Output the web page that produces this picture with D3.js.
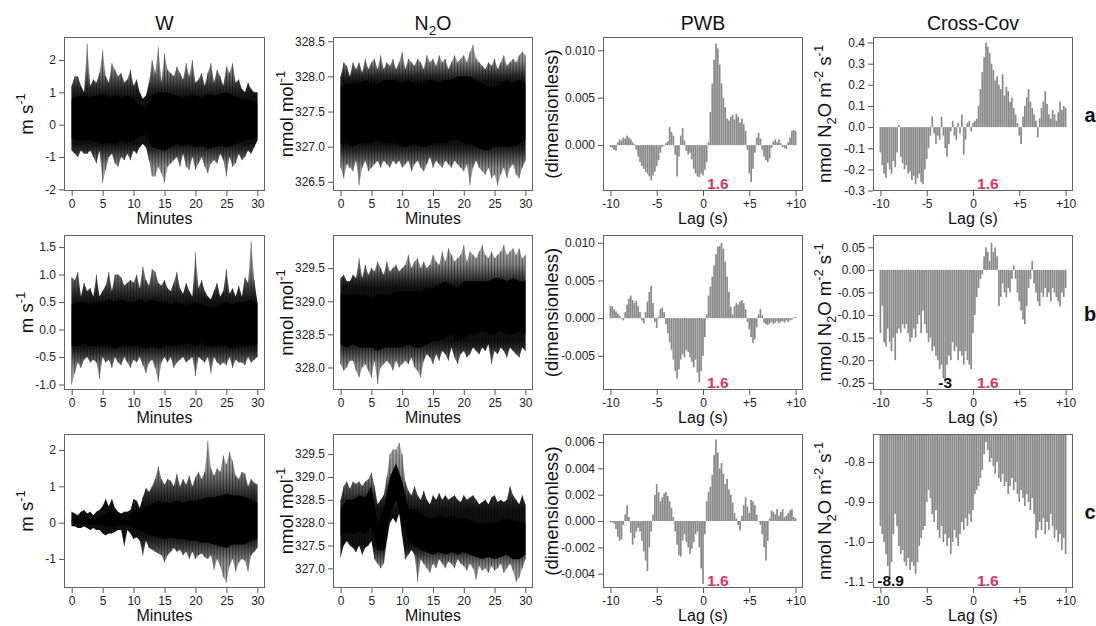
<!DOCTYPE html>
<html><head><meta charset="utf-8">
<script src="https://cdn.jsdelivr.net/npm/d3@7"></script>
<style>
html,body{margin:0;padding:0;background:#fff;}
svg{display:block;font-family:"Liberation Sans",Arial,Helvetica,sans-serif;}
</style></head><body><svg id="chart" width="1096" height="626"></svg>
<script>
// ---------------- categories / grids ----------------
const timeGrid = d3.range(0, 61).map(i => i / 2);      // minutes, 0.5-min bins
const coreGrid = d3.range(0, 31);                        // minutes, 1-min bins
const lagGrid = d3.range(-100, 101, 2).map(i => i / 10); // seconds, 0.2-s lags
const timeTicks = [0, 5, 10, 15, 20, 25, 30];
const lagTicks = [-10, -5, 0, 5, 10];
const lagTickLabels = ["-10", "-5", "0", "+5", "+10"];
const colTitles = ["W", "N2O", "PWB", "Cross-Cov"];
const rowLabels = ["a", "b", "c"];
const peakLag = 1.6;
const extraLags = [null, -3, -8.9];

// ---------------- W (m s-1): envelopes per 0.5 min, core per 1 min ----------------
const wHiA = [1.2,1.5,1.5,1.2,1.0,2.5,1.2,1.4,1.3,1.6, 2.3,1.5,1.3,1.9,1.7,1.5,1.6,1.3,1.4,1.7,
  1.2,1.4,1.0,0.8,0.9,1.3,2.0,1.6,2.4,1.3, 2.2,1.7,1.6,1.5,1.8,1.6,1.4,1.9,1.5,2.0,
  1.3,1.4,1.6,1.2,1.6,1.9,1.3,1.7,1.5,1.2, 1.8,1.6,1.9,1.3,1.4,1.1,1.0,1.3,1.1,1.0, 1.0];
const wLoA = [-0.8,-0.9,-1.0,-0.8,-0.9,-0.9,-0.8,-1.0,-1.2,-0.8, -1.8,-1.4,-1.0,-0.9,-1.2,-1.3,-1.0,-1.1,-0.9,-1.1,
  -0.8,-0.9,-0.7,-0.6,-0.7,-1.1,-1.6,-1.6,-1.3,-1.5, -1.8,-1.3,-1.2,-1.1,-1.0,-1.3,-0.9,-1.3,-1.4,-1.0,
  -1.4,-1.2,-1.0,-1.3,-1.5,-1.2,-1.1,-1.2,-0.9,-1.1, -1.6,-1.0,-1.3,-1.2,-0.9,-1.1,-1.0,-0.8,-0.9,-0.7, -0.5];
const wCoreHiA = [0.8,0.85,0.9,0.85,0.9,0.95,0.85,0.9,0.85,0.9,0.8,0.6,0.5,0.9,1.0,1.0,0.95,0.9,0.85,0.9,0.9,0.85,0.95,0.9,0.95,1.0,0.9,0.8,0.8,0.75,0.7];
const wCoreLoA = [-0.45,-0.5,-0.5,-0.5,-0.55,-0.6,-0.55,-0.6,-0.5,-0.55,-0.5,-0.35,-0.3,-0.7,-0.75,-0.8,-0.7,-0.6,-0.65,-0.6,-0.7,-0.65,-0.75,-0.7,-0.65,-0.7,-0.65,-0.55,-0.5,-0.45,-0.4];

const wHiB = [0.95,0.9,1.05,0.6,0.85,0.7,0.75,0.6,1.0,0.6, 0.7,0.8,1.05,0.7,1.0,1.0,0.95,0.8,0.85,0.9,
  0.85,1.0,0.75,1.15,0.9,0.8,1.1,1.05,0.85,0.8, 0.9,0.75,0.7,0.85,1.05,0.75,0.65,0.85,0.7,0.6,
  1.4,0.75,0.9,0.7,0.6,0.55,0.7,0.85,0.6,0.7, 1.1,0.65,0.75,0.6,0.8,0.6,0.95,0.85,1.6,0.9, 0.5];
const wLoB = [-1.0,-0.8,-0.6,-0.7,-0.55,-0.5,-0.6,-0.55,-0.6,-0.9, -0.5,-0.6,-0.55,-0.7,-0.5,-0.6,-0.65,-0.5,-0.6,-0.7,
  -0.55,-0.6,-0.5,-0.65,-0.8,-0.6,-0.55,-0.7,-0.95,-0.6, -0.5,-0.6,-0.5,-0.7,-0.6,-0.55,-0.5,-0.6,-0.55,-0.5,
  -0.85,-0.5,-0.55,-0.6,-0.5,-0.8,-0.5,-0.6,-0.65,-0.6, -0.65,-0.5,-0.7,-0.55,-0.6,-0.6,-0.65,-0.5,-0.6,-0.55, -0.5];
const wCoreHiB = [0.45,0.5,0.5,0.45,0.5,0.5,0.55,0.5,0.55,0.5,0.5,0.55,0.5,0.55,0.5,0.5,0.45,0.5,0.45,0.45,0.5,0.45,0.4,0.4,0.45,0.5,0.45,0.5,0.5,0.55,0.45];
const wCoreLoB = [-0.3,-0.3,-0.25,-0.3,-0.3,-0.3,-0.3,-0.35,-0.3,-0.3,-0.3,-0.3,-0.35,-0.3,-0.35,-0.3,-0.3,-0.3,-0.25,-0.25,-0.3,-0.25,-0.3,-0.3,-0.3,-0.3,-0.35,-0.3,-0.3,-0.3,-0.25];

const wHiC = [0.3,0.25,0.2,0.3,0.35,0.25,0.3,0.2,0.3,0.35, 0.45,0.65,0.45,0.65,0.4,0.3,0.25,0.3,0.3,0.35,
  0.65,0.6,0.4,0.7,0.95,0.85,1.0,1.2,1.55,1.2, 1.05,1.2,1.15,1.0,1.35,1.0,1.2,1.05,1.3,1.0,
  1.25,1.4,1.2,1.4,2.25,1.5,1.3,1.5,1.4,1.85, 1.6,1.95,1.7,1.3,1.2,1.4,1.35,1.0,1.2,1.1, 1.05];
const wLoC = [-0.1,-0.1,-0.15,-0.15,-0.1,-0.15,-0.2,-0.15,-0.2,-0.2, -0.3,-0.35,-0.3,-0.3,-0.25,-0.2,-0.2,-0.65,-0.2,-0.3,
  -0.45,-0.4,-0.5,-0.9,-0.5,-0.7,-0.75,-0.8,-0.85,-0.9, -1.1,-0.9,-0.8,-0.7,-0.8,-0.75,-0.9,-0.8,-1.0,-0.8,
  -1.0,-0.9,-0.85,-0.95,-1.0,-0.9,-1.3,-1.0,-1.2,-1.5, -1.65,-1.2,-1.0,-1.35,-1.1,-1.0,-1.05,-1.35,-0.9,-0.8, -0.7];
const wCoreHiC = [0.1,0.1,0.12,0.12,0.12,0.2,0.3,0.3,0.15,0.15,0.3,0.35,0.45,0.5,0.6,0.55,0.55,0.6,0.55,0.6,0.6,0.65,0.7,0.7,0.75,0.8,0.75,0.75,0.7,0.65,0.55];
const wCoreLoC = [-0.02,-0.03,-0.03,-0.05,-0.05,-0.08,-0.12,-0.1,-0.05,-0.08,-0.15,-0.2,-0.3,-0.35,-0.4,-0.45,-0.4,-0.45,-0.45,-0.5,-0.5,-0.55,-0.55,-0.6,-0.65,-0.7,-0.6,-0.6,-0.6,-0.5,-0.45];

// ---------------- N2O (nmol mol-1) ----------------
const nHiA = [328.0,328.2,328.15,328.0,328.2,328.1,328.2,328.05,328.25,328.1, 328.2,328.25,328.1,328.3,328.1,328.2,328.15,328.25,328.1,328.2,
  328.35,328.1,328.25,328.2,328.15,328.25,328.2,328.1,328.3,328.2, 328.25,328.15,328.3,328.2,328.25,328.1,328.2,328.3,328.2,328.25,
  328.3,328.2,328.35,328.45,328.25,328.2,328.15,328.1,328.2,328.15, 328.25,328.1,328.2,328.3,328.15,328.2,328.25,328.2,328.3,328.35, 328.3];
const nLoA = [326.7,326.55,326.75,326.7,326.65,326.8,326.45,326.7,326.8,326.65, 326.7,326.75,326.8,326.7,326.8,326.75,326.7,326.8,326.75,326.8,
  326.7,326.75,326.8,326.65,326.75,326.8,326.7,326.65,326.75,326.85, 326.7,326.8,326.75,326.7,326.8,326.75,326.7,326.8,326.75,326.7,
  326.65,326.75,326.45,326.7,326.8,326.7,326.65,326.6,326.7,326.55, 326.6,326.45,326.6,326.7,326.55,326.7,326.75,326.6,326.55,326.7, 326.8];
const nCoreHiA = [327.85,327.9,327.9,327.9,327.95,327.9,327.9,327.95,327.95,327.95,327.9,327.95,327.9,327.9,327.95,327.95,327.9,327.95,327.95,328.0,328.0,328.0,327.95,327.9,327.85,327.85,327.9,327.95,327.9,327.95,327.9];
const nCoreLoA = [327.05,327.05,327.0,327.05,327.05,327.05,327.1,327.05,327.05,327.05,327.0,327.0,327.05,327.0,327.0,327.05,327.05,327.05,327.1,327.1,327.05,327.05,327.0,326.95,326.95,327.0,327.0,327.0,327.0,327.05,327.1];

const nHiB = [329.35,329.4,329.3,329.3,329.4,329.35,329.65,329.35,329.55,329.4, 329.5,329.45,329.6,329.5,329.4,329.6,329.45,329.5,329.55,329.45,
  329.5,329.55,329.7,329.5,329.6,329.65,329.5,329.6,329.5,329.55, 329.7,329.6,329.55,329.75,329.6,329.8,329.7,329.6,329.65,329.7,
  329.85,329.6,329.75,329.7,329.65,329.75,329.85,329.7,329.65,329.75, 329.65,329.7,329.75,329.85,329.7,329.75,329.8,329.7,329.8,329.65, 329.7];
const nLoB = [328.05,327.95,328.0,328.1,328.1,327.95,327.85,328.0,328.05,327.95, 327.85,328.1,327.75,328.0,328.05,328.1,328.05,327.95,328.1,328.0,
  328.05,328.1,328.05,328.15,328.0,327.95,327.85,328.1,328.2,328.15, 328.05,328.2,328.1,328.25,328.2,328.1,328.3,328.15,328.05,328.2,
  328.25,328.15,328.2,328.3,328.25,328.2,328.3,328.25,328.35,328.05, 328.25,328.2,328.3,328.25,328.15,328.3,328.25,328.2,328.15,328.3, 328.25];
const nCoreHiB = [329.1,329.1,329.1,329.1,329.1,329.05,329.1,329.1,329.1,329.15,329.15,329.15,329.15,329.15,329.2,329.2,329.25,329.3,329.25,329.2,329.3,329.3,329.3,329.3,329.3,329.35,329.35,329.3,329.35,329.3,329.3];
const nCoreLoB = [328.35,328.3,328.35,328.3,328.3,328.3,328.25,328.3,328.3,328.3,328.3,328.35,328.3,328.3,328.35,328.4,328.4,328.45,328.5,328.4,328.45,328.5,328.5,328.55,328.5,328.5,328.55,328.5,328.5,328.55,328.5];

const nHiC = [328.5,328.8,328.9,328.75,328.9,328.85,328.9,328.8,328.9,328.95, 329.1,328.8,328.4,328.5,328.6,329.0,329.5,329.6,329.6,329.75,
  329.5,328.9,328.7,328.6,328.8,328.6,328.5,328.7,328.5,328.4, 328.6,328.5,328.65,328.5,328.6,328.5,328.55,328.6,328.5,328.45,
  328.6,328.5,328.55,328.6,328.5,328.4,328.45,328.5,328.4,328.55, 328.6,328.45,328.5,328.45,328.5,328.8,328.6,328.5,328.4,328.6, 328.4];
const nLoC = [327.25,327.5,327.6,327.5,327.45,327.35,327.5,327.3,327.45,327.5, 327.6,327.2,327.1,327.0,327.1,327.6,328.0,328.1,328.0,328.2,
  327.7,327.2,327.3,327.4,327.3,326.7,327.2,327.1,327.0,326.9, 327.1,327.0,327.2,327.1,327.0,327.15,327.1,327.0,327.2,327.1,
  327.05,326.95,327.1,327.0,326.75,327.05,326.95,327.0,326.9,327.05, 326.95,327.0,327.1,326.9,327.0,327.1,326.95,326.7,326.8,327.0, 327.2];
const nCoreHiC = [328.3,328.5,328.5,328.6,328.55,328.8,328.0,328.3,329.0,329.3,328.9,328.3,328.3,328.2,328.1,328.1,328.15,328.1,328.15,328.1,328.1,328.05,328.0,328.0,328.0,328.0,328.05,328.1,328.05,328.0,328.0];
const nCoreLoC = [327.7,327.8,327.75,327.8,327.75,327.9,327.4,327.4,328.2,328.5,328.0,327.6,327.5,327.4,327.35,327.3,327.35,327.3,327.35,327.3,327.35,327.3,327.25,327.2,327.25,327.2,327.25,327.3,327.2,327.2,327.3];

// ---------------- PWB (dimensionless), lag -10..+10 s ----------------
const pwbA = [-0.0002,-0.0003,-0.0005,-0.0006,0.0003,0.0006,0.0005,0.0008,0.0007,0.0010,
  0.0008,0.0006,0.0003,0.0001,-0.0005,-0.0012,-0.0018,-0.0022,-0.0025,-0.0028,
  -0.0030,-0.0033,-0.0037,-0.0032,-0.0028,-0.0022,-0.0016,-0.0008,-0.0002,0.0000,
  0.0002,0.0004,0.0019,0.0014,0.0010,-0.0010,-0.0033,-0.0012,0.0010,0.0018,
  0.0005,-0.0006,-0.0010,-0.0008,-0.0015,-0.0025,-0.0030,-0.0033,-0.0034,-0.0030,
  -0.0032,-0.0026,-0.0018,0.0003,0.0035,0.0065,0.0090,0.0107,0.0102,0.0085,
  0.0065,0.0050,0.0040,0.0028,0.0026,0.0030,0.0032,0.0027,0.0033,0.0030,
  0.0024,0.0028,0.0022,0.0015,-0.0005,-0.0030,-0.0039,-0.0025,-0.0008,0.0008,
  0.0013,0.0007,-0.0005,-0.0012,-0.0016,-0.0018,-0.0014,-0.0003,0.0004,0.0006,
  0.0003,0.0006,0.0002,-0.0002,-0.0003,-0.0004,0.0003,0.0008,0.0015,0.0016,
  0.0015];
const pwbB = [0.0016,0.0016,0.0012,0.0009,0.0006,0.0003,-0.0001,-0.0003,0.0008,0.0018,
  0.0026,0.0030,0.0024,0.0020,0.0023,0.0016,0.0008,-0.0003,-0.0007,0.0008,
  0.0022,0.0035,0.0043,0.0020,-0.0005,-0.0013,0.0002,0.0012,0.0014,0.0008,
  -0.0008,-0.0020,-0.0032,-0.0042,-0.0055,-0.0070,-0.0080,-0.0068,-0.0055,-0.0048,
  -0.0052,-0.0042,-0.0045,-0.0052,-0.0058,-0.0065,-0.0055,-0.0072,-0.0085,-0.0070,
  -0.0050,-0.0025,0.0005,0.0030,0.0042,0.0055,0.0070,0.0085,0.0095,0.0096,
  0.0100,0.0092,0.0075,0.0055,0.0035,0.0015,0.0005,0.0016,0.0020,0.0018,
  0.0022,0.0024,0.0020,0.0012,-0.0005,-0.0015,-0.0025,-0.0033,-0.0028,-0.0012,
  0.0005,0.0012,0.0004,-0.0006,-0.0008,-0.0009,-0.0007,-0.0005,-0.0008,-0.0006,
  -0.0004,-0.0007,-0.0005,-0.0004,-0.0006,-0.0003,-0.0005,-0.0003,-0.0002,0.0001,
  0.0001];
const pwbC = [-0.0001,-0.0001,-0.0002,-0.0006,-0.0012,-0.0015,-0.0014,-0.0003,0.0005,0.0012,
  0.0003,-0.0009,-0.0018,-0.0013,-0.0008,-0.0005,-0.0008,-0.0015,-0.0023,-0.0030,
  -0.0038,-0.0020,-0.0008,0.0005,0.0020,0.0028,0.0022,0.0015,0.0018,0.0021,
  0.0022,0.0019,0.0015,0.0010,0.0003,-0.0008,-0.0018,-0.0026,-0.0027,-0.0015,
  -0.0010,-0.0016,-0.0020,-0.0025,-0.0021,-0.0016,-0.0010,-0.0008,-0.0020,-0.0036,
  -0.0048,-0.0010,0.0015,0.0022,0.0026,0.0035,0.0050,0.0062,0.0052,0.0040,
  0.0044,0.0036,0.0028,0.0032,0.0024,0.0020,0.0014,0.0006,0.0002,-0.0003,
  -0.0007,0.0004,0.0012,0.0018,0.0011,0.0006,0.0016,0.0015,0.0012,0.0005,
  0.0000,-0.0003,-0.0010,-0.0020,-0.0030,-0.0015,0.0002,0.0008,0.0007,0.0005,
  0.0009,0.0004,0.0007,0.0009,0.0003,0.0004,0.0006,0.0008,0.0009,0.0003,
  0.0002];

// ---------------- Cross-covariance (nmol N2O m-2 s-1) ----------------
const crossA = [-0.12,-0.18,-0.22,-0.24,-0.17,-0.20,-0.22,-0.16,-0.19,-0.12,
  0.01,-0.14,-0.17,-0.20,-0.18,-0.22,-0.21,-0.25,-0.23,-0.27,
  -0.24,-0.22,-0.26,-0.27,-0.20,-0.15,-0.10,-0.04,0.05,-0.03,
  -0.08,-0.04,-0.06,0.05,-0.04,-0.10,-0.14,-0.08,-0.02,0.03,
  -0.04,-0.06,0.02,-0.03,0.06,-0.13,-0.06,0.02,0.03,-0.02,
  0.02,0.03,0.04,0.10,0.18,0.26,0.33,0.40,0.38,0.35,
  0.30,0.27,0.22,0.24,0.20,0.18,0.25,0.15,0.19,0.17,
  0.12,0.14,0.09,0.06,0.02,-0.04,-0.08,0.05,0.10,0.14,
  0.18,0.12,0.09,0.06,0.03,-0.05,0.04,0.09,0.12,0.17,
  0.11,0.06,0.04,0.08,0.06,0.03,0.07,0.12,0.08,0.10,
  0.09];
const crossB = [-0.14,-0.08,-0.16,-0.17,-0.13,-0.16,-0.18,-0.15,-0.20,-0.14,
  -0.13,-0.14,-0.12,-0.13,-0.12,-0.14,-0.16,-0.15,-0.13,-0.15,
  -0.12,-0.10,-0.14,-0.09,-0.12,-0.14,-0.16,-0.15,-0.18,-0.17,
  -0.19,-0.20,-0.22,-0.21,-0.24,-0.25,-0.21,-0.19,-0.20,-0.16,
  -0.18,-0.17,-0.20,-0.18,-0.19,-0.21,-0.18,-0.20,-0.21,-0.22,
  -0.14,-0.10,-0.06,-0.04,-0.02,-0.01,0.03,0.05,0.04,0.02,
  0.06,0.04,0.05,0.03,-0.08,-0.06,-0.03,-0.05,-0.06,-0.04,
  -0.05,-0.02,0.01,-0.02,-0.05,-0.07,-0.09,-0.11,-0.12,-0.08,
  -0.04,-0.02,0.02,-0.03,-0.05,-0.07,-0.08,-0.05,-0.06,-0.04,
  -0.06,-0.05,-0.07,-0.04,-0.05,-0.06,-0.07,-0.08,-0.05,-0.06,
  -0.04];
const crossC = [-0.96,-0.98,-1.00,-1.03,-1.06,-1.09,-1.05,-0.98,-0.93,-0.96,
  -1.01,-1.03,-1.02,-1.05,-1.06,-1.04,-1.07,-1.05,-1.06,-1.08,
  -1.05,-1.01,-0.99,-0.97,-0.96,-0.90,-0.87,-0.89,-0.93,-0.95,
  -0.92,-0.97,-0.99,-0.96,-1.00,-0.98,-1.01,-0.99,-1.03,-1.00,
  -0.97,-0.99,-1.01,-0.98,-0.95,-0.97,-0.94,-0.96,-0.93,-0.95,
  -0.92,-0.88,-0.87,-0.86,-0.84,-0.82,-0.78,-0.75,-0.77,-0.80,
  -0.79,-0.81,-0.83,-0.80,-0.84,-0.85,-0.83,-0.86,-0.85,-0.88,
  -0.86,-0.84,-0.87,-0.85,-0.88,-0.90,-0.87,-0.89,-0.91,-0.88,
  -0.90,-0.92,-0.89,-0.93,-0.99,-0.97,-0.95,-0.97,-0.94,-0.98,
  -0.95,-0.97,-0.93,-0.96,-0.99,-0.97,-1.00,-0.98,-1.02,-0.99,
  -1.03];

// ---------------- axis ticks ----------------
const wTicks = [[-2,-1,0,1,2], [-1,-0.5,0,0.5,1,1.5], [-1,0,1,2]];
const nTicks = [[326.5,327,327.5,328,328.5], [328,328.5,329,329.5], [327,327.5,328,328.5,329,329.5]];
const pwbTicks = [[0,0.005,0.01], [-0.005,0,0.005,0.01], [-0.004,-0.002,0,0.002,0.004,0.006]];
const crossTicks = [[-0.3,-0.2,-0.1,0,0.1,0.2,0.3,0.4], [-0.25,-0.2,-0.15,-0.1,-0.05,0,0.05], [-1.1,-1.0,-0.9,-0.8]];

// ---------------- layout / styling ----------------
const FONT = '"Liberation Sans",Arial,Helvetica,sans-serif';
const colX = [[64,265],[333,533],[603,803],[873,1073]];
const rowY = [[37,191],[235,390],[434,588]];
const wDom = [[-2.05,2.71],[-1.10,1.72],[-1.80,2.44]];
const nDom = [[326.37,328.56],[327.66,330.0],[326.57,329.94]];
const pwbDom = [[-0.00484,0.0114],[-0.00953,0.01103],[-0.00509,0.00661]];
const crossDom = [[-0.302,0.426],[-0.266,0.0773],[-1.115,-0.730]];
const wDec = [0,1,0], nDec = [1,1,1], pwbDec = [3,3,3], crossDec = [1,2,1];
const timeDomain = [-1.24, 31.24];
const lagDomain = [-10.8, 10.8];
const RED = "#DC3264";

const svg = d3.select("#chart");
const defs = svg.append("defs");
let uid = 0;

function rich(sel, parts, size) {
  let shift = 0;
  parts.forEach(p => {
    const ts = sel.append("tspan").text(p.t);
    const target = p.sup ? -size * 0.42 : (p.sub ? size * 0.28 : 0);
    const dy = target - shift;
    if (dy !== 0) ts.attr("dy", dy);
    if (p.sup || p.sub) ts.attr("font-size", size * 0.7);
    shift = target;
  });
}

function frame(g, box, x, y, yTicks, dec, xTicks, xLabels) {
  const ax = g.append("g").attr("transform", `translate(${box.x0},0)`)
    .call(d3.axisLeft(y).tickValues(yTicks).tickFormat(v => v.toFixed(dec)).tickSize(5).tickPadding(3));
  const bx = g.append("g").attr("transform", `translate(0,${box.y1})`)
    .call(d3.axisBottom(x).tickValues(xTicks).tickFormat((v, i) => xLabels[i]).tickSize(5).tickPadding(3));
  [ax, bx].forEach(a => {
    a.attr("font-family", null).attr("font-size", null);
    a.select(".domain").remove();
    a.selectAll("line").attr("stroke", "#555");
    a.selectAll("text").attr("fill", "#222").style("font-size", "12px").style("font-family", FONT);
  });
  g.append("rect").attr("x", box.x0 + 0.5).attr("y", box.y0 + 0.5)
    .attr("width", box.x1 - box.x0 - 1).attr("height", box.y1 - box.y0 - 1)
    .attr("fill", "none").attr("stroke", "#666").attr("stroke-width", 1);
}

function clip(box) {
  const id = "clip" + (uid++);
  defs.append("clipPath").attr("id", id).append("rect")
    .attr("x", box.x0 + 1).attr("y", box.y0 + 1)
    .attr("width", box.x1 - box.x0 - 2).attr("height", box.y1 - box.y0 - 2);
  return id;
}

function timePanel(box, yDom, yTicks, dec, hi, lo, cHi, cLo) {
  const g = svg.append("g");
  const x = d3.scaleLinear().domain(timeDomain).range([box.x0, box.x1]);
  const y = d3.scaleLinear().domain(yDom).range([box.y1, box.y0]);
  const inner = g.append("g").attr("clip-path", `url(#${clip(box)})`);
  // vertical shading: grey at the extremes, dark next to the dense core
  const yTop = y(d3.max(hi)), yBot = y(d3.min(lo));
  const cTop = y(d3.mean(cHi)), cBot = y(d3.mean(cLo));
  const off = v => Math.max(0, Math.min(1, (v - yTop) / (yBot - yTop)));
  const gid = "grad" + (uid++);
  const grad = defs.append("linearGradient").attr("id", gid).attr("gradientUnits", "userSpaceOnUse")
    .attr("x1", 0).attr("x2", 0).attr("y1", yTop).attr("y2", yBot);
  [[0, "#b5b5b5"], [off(cTop) * 0.45, "#8a8a8a"], [off(cTop) * 0.85, "#2a2a2a"], [off(cTop), "#111"],
   [off(cBot), "#111"], [off(cBot) + (1 - off(cBot)) * 0.15, "#2a2a2a"], [off(cBot) + (1 - off(cBot)) * 0.55, "#8a8a8a"], [1, "#b5b5b5"]]
    .forEach(s => grad.append("stop").attr("offset", s[0]).attr("stop-color", s[1]));
  const env = d3.area().x((d, i) => x(timeGrid[i])).y0((d, i) => y(lo[i])).y1((d, i) => y(hi[i]));
  inner.append("path").datum(hi).attr("d", env).attr("fill", `url(#${gid})`);
  inner.selectAll("line.sp").data(timeGrid).join("line").attr("class", "sp")
    .attr("x1", t => x(t)).attr("x2", t => x(t))
    .attr("y1", (t, i) => y(hi[i])).attr("y2", (t, i) => y(lo[i]))
    .attr("stroke", "#000").attr("stroke-opacity", 0.45).attr("stroke-width", 1);
  const core = d3.area().x((d, i) => x(coreGrid[i])).y0((d, i) => y(cLo[i])).y1((d, i) => y(cHi[i]));
  inner.append("path").datum(cHi).attr("d", core).attr("fill", "#000");
  frame(g, box, x, y, yTicks, dec, timeTicks, timeTicks.map(String));
  return g;
}

function lagPanel(box, yDom, yTicks, dec, vals, extra) {
  const g = svg.append("g");
  const x = d3.scaleLinear().domain(lagDomain).range([box.x0, box.x1]);
  const y = d3.scaleLinear().domain(yDom).range([box.y1, box.y0]);
  const inner = g.append("g").attr("clip-path", `url(#${clip(box)})`);
  const bw = (x(0.2) - x(0)) * 0.9;
  inner.selectAll("rect").data(lagGrid).join("rect")
    .attr("x", l => x(l) - bw / 2).attr("width", bw)
    .attr("y", (l, i) => Math.min(y(0), y(vals[i])))
    .attr("height", (l, i) => Math.max(0.6, Math.abs(y(vals[i]) - y(0))))
    .attr("fill", "#888");
  frame(g, box, x, y, yTicks, dec, lagTicks, lagTickLabels);
  g.append("text").attr("x", x(peakLag)).attr("y", box.y1 - 2).attr("text-anchor", "middle")
    .attr("font-weight", "bold").attr("font-size", 15.5).attr("fill", RED).text(peakLag.toFixed(1));
  if (extra !== null && extra !== undefined) {
    g.append("text").attr("x", x(extra)).attr("y", box.y1 - 2).attr("text-anchor", "middle")
      .attr("font-weight", "bold").attr("font-size", 15.5).attr("fill", "#111").text(String(extra));
  }
  return g;
}

const wSets = [[wHiA,wLoA,wCoreHiA,wCoreLoA],[wHiB,wLoB,wCoreHiB,wCoreLoB],[wHiC,wLoC,wCoreHiC,wCoreLoC]];
const nSets = [[nHiA,nLoA,nCoreHiA,nCoreLoA],[nHiB,nLoB,nCoreHiB,nCoreLoB],[nHiC,nLoC,nCoreHiC,nCoreLoC]];
const pwbSets = [pwbA, pwbB, pwbC];
const crossSets = [crossA, crossB, crossC];

const yTitles = [
  [{t:"m s"},{t:"-1",sup:true}],
  [{t:"nmol mol"},{t:"-1",sup:true}],
  [{t:"(dimensionless)"}],
  [{t:"nmol N"},{t:"2",sub:true},{t:"O m"},{t:"-2",sup:true},{t:" s"},{t:"-1",sup:true}]
];
const yTitleOffset = [31, 40, 45, 42];
const xTitles = ["Minutes", "Minutes", "Lag (s)", "Lag (s)"];

for (let r = 0; r < 3; r++) {
  const boxes = colX.map(c => ({x0: c[0], x1: c[1], y0: rowY[r][0], y1: rowY[r][1]}));
  timePanel(boxes[0], wDom[r], wTicks[r], wDec[r], ...wSets[r]);
  timePanel(boxes[1], nDom[r], nTicks[r], nDec[r], ...nSets[r]);
  lagPanel(boxes[2], pwbDom[r], pwbTicks[r], pwbDec[r], pwbSets[r], null);
  lagPanel(boxes[3], crossDom[r], crossTicks[r], crossDec[r], crossSets[r], extraLags[r]);
  boxes.forEach((b, c) => {
    const cy = (b.y0 + b.y1) / 2, cx = b.x0 - yTitleOffset[c];
    const t = svg.append("text").attr("transform", `translate(${cx},${cy}) rotate(-90)`)
      .attr("text-anchor", "middle").attr("font-size", 18.5).attr("fill", "#111");
    rich(t, yTitles[c], 18.5);
    svg.append("text").attr("x", (b.x0 + b.x1) / 2).attr("y", b.y1 + 33)
      .attr("text-anchor", "middle").attr("font-size", 16).attr("fill", "#111").text(xTitles[c]);
  });
  svg.append("text").attr("x", 1090).attr("y", (rowY[r][0] + rowY[r][1]) / 2 + 8)
    .attr("text-anchor", "middle").attr("font-size", 20).attr("font-weight", "bold").attr("fill", "#111").text(rowLabels[r]);
}

// column titles
colX.forEach((c, i) => {
  const t = svg.append("text").attr("x", (c[0] + c[1]) / 2).attr("y", 29.5)
    .attr("text-anchor", "middle").attr("font-size", 19.5).attr("fill", "#111");
  if (colTitles[i] === "N2O") rich(t, [{t:"N"},{t:"2",sub:true},{t:"O"}], 19.5);
  else t.text(colTitles[i]);
});
</script></body></html>
